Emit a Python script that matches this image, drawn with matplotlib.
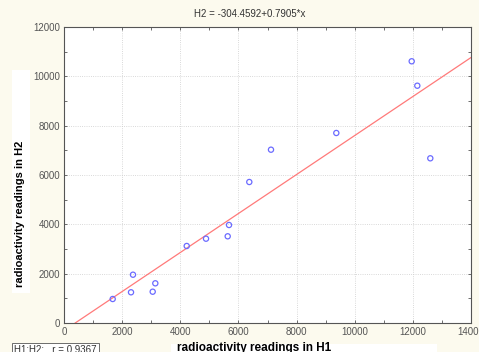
import matplotlib
matplotlib.use("Agg")
import matplotlib.pyplot as plt
import numpy as np
from matplotlib.ticker import MultipleLocator
from matplotlib.patches import Rectangle

# readings of H1 (x) and H2 (y)
h1 = [1675, 2305, 2373, 3051, 3141, 4221, 4885, 5631, 5676, 6374,
      7120, 9367, 11960, 12153, 12600]
h2 = [973, 1245, 1958, 1269, 1609, 3122, 3418, 3515, 3973, 5716,
      7026, 7703, 10610, 9620, 6677]
intercept, slope = -304.4592, 0.7905
r_value = 0.9367

bg = "#fcfaee"
plt.rcParams["font.family"] = ["Liberation Sans", "DejaVu Sans"]

W, H = 479, 352
fig = plt.figure(figsize=(W / 100, H / 100), dpi=100, facecolor=bg)
ax = fig.add_axes([64 / W, 29 / H, 407 / W, 296 / H])
ax.set_facecolor("white")

xs = np.array([-intercept / slope, 14000])
ax.plot(xs, intercept + slope * xs, color="#ff7a7a", lw=0.9, zorder=2)
ax.scatter(h1, h2, s=14, facecolors="none", edgecolors="#6b6bff", linewidths=0.9, zorder=3)

ax.set_xlim(0, 14000)
ax.set_ylim(0, 12000)
ax.xaxis.set_major_locator(MultipleLocator(2000))
ax.xaxis.set_minor_locator(MultipleLocator(1000))
ax.yaxis.set_major_locator(MultipleLocator(2000))
ax.yaxis.set_minor_locator(MultipleLocator(1000))
ax.tick_params(which="both", direction="in", top=True, right=True,
               length=2.5, width=0.6, color="#555555", labelsize=7, labelcolor="#555555", pad=3)
ax.grid(True, which="major", color="#cccccc", ls=":", lw=0.6)
for s in ax.spines.values():
    s.set_color("#555555")
    s.set_linewidth(0.8)

# white label panels behind the axis titles
fig.patches.append(Rectangle((12 / W, 59 / H), 18 / W, 223 / H, transform=fig.transFigure,
                             facecolor="white", edgecolor="none", zorder=0))
fig.patches.append(Rectangle((171 / W, 0), 266 / W, 8 / H, transform=fig.transFigure,
                             facecolor="white", edgecolor="none", zorder=0))

fig.text(250 / W, 1 - 14 / H, "H2 = %.4f+%.4f*x" % (intercept, slope), ha="center", va="center",
         fontsize=7, color="#333333")
fig.text(20 / W, 1 - 214 / H, "radioactivity readings in H2", rotation=90, ha="center", va="center",
         fontsize=8, fontweight="bold")
fig.text(254 / W, -0.006, "radioactivity readings in H1", ha="center", va="bottom",
         fontsize=8.5, fontweight="bold")
fig.text(0.03, -0.008, "H1:H2:   r = %.4f" % r_value, ha="left", va="bottom",
         fontsize=7, color="#333333",
         bbox=dict(facecolor="white", edgecolor="#555555", lw=0.6, pad=1.5))

fig.savefig("out.png", dpi=100, facecolor=bg)
